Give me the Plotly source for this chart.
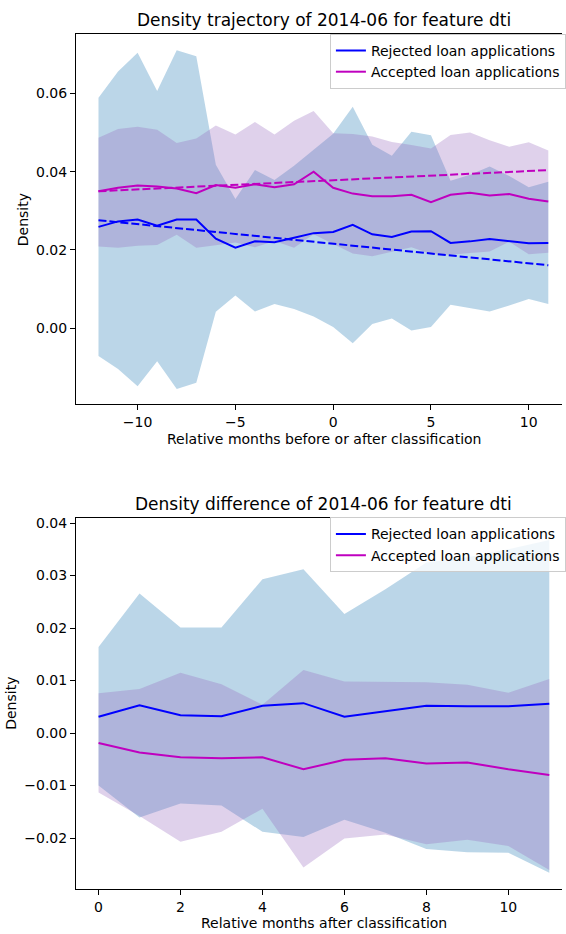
import plotly.graph_objects as go

# ---------------- data: top chart (density trajectory) ----------------
months_top = list(range(-12, 12))
rej_mean = [0.0259, 0.0273, 0.0278, 0.0262, 0.0278, 0.0278, 0.0229, 0.0206,
            0.0222, 0.0220, 0.0231, 0.0243, 0.0246, 0.0264, 0.0240, 0.0233,
            0.0247, 0.0248, 0.0218, 0.0222, 0.0228, 0.0223, 0.0217, 0.0218]
rej_upper = [0.0589, 0.0656, 0.0704, 0.0606, 0.0710, 0.0695, 0.0418, 0.0330,
             0.0404, 0.0379, 0.0415, 0.0457, 0.0497, 0.0566, 0.0469, 0.0441,
             0.0502, 0.0493, 0.0377, 0.0392, 0.0413, 0.0389, 0.0360, 0.0374]
rej_lower = [-0.0071, -0.0104, -0.0148, -0.0084, -0.0155, -0.0139, 0.0042, 0.0084,
             0.0043, 0.0062, 0.0049, 0.0030, 0.0003, -0.0038, 0.0011, 0.0025,
             -0.0006, 0.0003, 0.0060, 0.0051, 0.0043, 0.0058, 0.0075, 0.0062]
acc_mean = [0.0350, 0.0359, 0.0365, 0.0362, 0.0357, 0.0345, 0.0366, 0.0359,
            0.0368, 0.0360, 0.0368, 0.0400, 0.0359, 0.0344, 0.0337, 0.0337,
            0.0341, 0.0322, 0.0341, 0.0346, 0.0339, 0.0343, 0.0331, 0.0324]
acc_upper = [0.0487, 0.0509, 0.0515, 0.0507, 0.0473, 0.0485, 0.0518, 0.0495,
             0.0527, 0.0495, 0.0530, 0.0555, 0.0498, 0.0496, 0.0490, 0.0476,
             0.0468, 0.0459, 0.0494, 0.0500, 0.0480, 0.0464, 0.0475, 0.0454]
acc_lower = [0.0209, 0.0206, 0.0211, 0.0213, 0.0239, 0.0206, 0.0212, 0.0219,
             0.0207, 0.0223, 0.0206, 0.0240, 0.0215, 0.0191, 0.0184, 0.0195,
             0.0207, 0.0190, 0.0188, 0.0192, 0.0196, 0.0221, 0.0189, 0.0193]
# trend lines: values at first and last month
rej_trend = [0.0276, 0.0161]
acc_trend = [0.0350, 0.0404]

# ---------------- data: bottom chart (density difference) ----------------
months_bot = list(range(0, 12))
rej_diff = [0.0031, 0.0053, 0.0034, 0.0032, 0.0052, 0.0057, 0.0031, 0.0041,
            0.0052, 0.0051, 0.0051, 0.0056]
rej_diff_upper = [0.0164, 0.0266, 0.0201, 0.0201, 0.0293, 0.0312, 0.0227, 0.0274,
                  0.0325, 0.0335, 0.0350, 0.0368]
rej_diff_lower = [-0.0100, -0.0161, -0.0134, -0.0138, -0.0188, -0.0198, -0.0165, -0.0190,
                  -0.0221, -0.0227, -0.0228, -0.0266]
acc_diff = [-0.0019, -0.0037, -0.0046, -0.0048, -0.0046, -0.0069, -0.0051, -0.0048,
            -0.0058, -0.0056, -0.0069, -0.0080]
acc_diff_upper = [0.0076, 0.0084, 0.0115, 0.0093, 0.0054, 0.0120, 0.0098, 0.0097,
                  0.0097, 0.0092, 0.0077, 0.0103]
acc_diff_lower = [-0.0113, -0.0158, -0.0207, -0.0188, -0.0144, -0.0256, -0.0201, -0.0193,
                  -0.0212, -0.0203, -0.0215, -0.0261]

series_names = ["Rejected loan applications", "Accepted loan applications"]
title_top = "Density trajectory of 2014-06 for feature dti"
title_bot = "Density difference of 2014-06 for feature dti"
xlabel_top = "Relative months before or after classification"
xlabel_bot = "Relative months after classification"
ylabel = "Density"

# ---------------- styling ----------------
BLUE_FILL = "rgba(31,119,180,0.3)"
PURPLE_FILL = "rgba(148,103,189,0.3)"
BLUE = "rgb(0,0,255)"
MAGENTA = "rgb(191,0,191)"
FONT = "DejaVu Sans"
W, H = 566, 934
L = 76

fig = go.Figure()


def band(x, up, lo, color, xa, ya):
    fig.add_trace(go.Scatter(x=x, y=up, mode="lines", line=dict(width=0),
                             showlegend=False, hoverinfo="skip", xaxis=xa, yaxis=ya))
    fig.add_trace(go.Scatter(x=x, y=lo, mode="lines", line=dict(width=0),
                             fill="tonexty", fillcolor=color,
                             showlegend=False, hoverinfo="skip", xaxis=xa, yaxis=ya))


# top chart
band(months_top, rej_upper, rej_lower, BLUE_FILL, "x", "y")
band(months_top, acc_upper, acc_lower, PURPLE_FILL, "x", "y")
fig.add_trace(go.Scatter(x=months_top, y=rej_mean, mode="lines", name=series_names[0],
                         line=dict(color=BLUE, width=2), xaxis="x", yaxis="y", legend="legend"))
fig.add_trace(go.Scatter(x=months_top, y=acc_mean, mode="lines", name=series_names[1],
                         line=dict(color=MAGENTA, width=2), xaxis="x", yaxis="y", legend="legend"))
trend_x = [months_top[0], months_top[-1]]
fig.add_trace(go.Scatter(x=trend_x, y=rej_trend, mode="lines", showlegend=False,
                         line=dict(color=BLUE, width=2, dash="8px,3px"), xaxis="x", yaxis="y"))
fig.add_trace(go.Scatter(x=trend_x, y=acc_trend, mode="lines", showlegend=False,
                         line=dict(color=MAGENTA, width=2, dash="8px,3px"), xaxis="x", yaxis="y"))

# bottom chart
band(months_bot, rej_diff_upper, rej_diff_lower, BLUE_FILL, "x2", "y2")
band(months_bot, acc_diff_upper, acc_diff_lower, PURPLE_FILL, "x2", "y2")
fig.add_trace(go.Scatter(x=months_bot, y=rej_diff, mode="lines", name=series_names[0],
                         line=dict(color=BLUE, width=2), xaxis="x2", yaxis="y2", legend="legend2"))
fig.add_trace(go.Scatter(x=months_bot, y=acc_diff, mode="lines", name=series_names[1],
                         line=dict(color=MAGENTA, width=2), xaxis="x2", yaxis="y2", legend="legend2"))


def py(p):  # pixel y -> paper y
    return 1 - p / H


def px(p):  # pixel x -> paper x
    return (p - L) / (W - L)


axis_common = dict(showline=True, linecolor="black", linewidth=1, ticks="outside",
                   ticklen=5, tickwidth=1, tickcolor="black", showgrid=False, zeroline=False,
                   tickfont=dict(family=FONT, size=14, color="black"))

legend_common = dict(bgcolor="rgba(255,255,255,0.8)", bordercolor="#cccccc", borderwidth=1,
                     font=dict(family=FONT, size=14, color="black"), xanchor="left",
                     yanchor="top", tracegroupgap=0, itemwidth=30, traceorder="normal")

fig.update_layout(
    width=W, height=H,
    margin=dict(l=L, r=0, t=0, b=0),
    paper_bgcolor="white", plot_bgcolor="white",
    font=dict(family=FONT, color="black"),
    xaxis=dict(domain=[0, 1], range=[-13.15, 11.70], tickvals=[-10, -5, 0, 5, 10],
               mirror=True, anchor="y", **axis_common),
    yaxis=dict(domain=[py(402.7), py(31)], range=[-0.01945, 0.0752],
               tickvals=[0.0, 0.02, 0.04, 0.06], tickformat=".2f", anchor="x", **axis_common),
    xaxis2=dict(domain=[0, 1], range=[-0.55, 11.31], tickvals=[0, 2, 4, 6, 8, 10],
                mirror=True, anchor="y2", **axis_common),
    yaxis2=dict(domain=[py(889), py(516.7)], range=[-0.02973, 0.04096],
                tickvals=[-0.02, -0.01, 0.0, 0.01, 0.02, 0.03, 0.04], tickformat=".2f",
                anchor="x2", **axis_common),
    legend=dict(x=px(332), y=py(31), **legend_common),
    legend2=dict(x=px(332), y=py(516), **legend_common),
    showlegend=True,
)

ann = [
    (title_top, 326, 17, 0, 17),
    (title_bot, 326, 503, 0, 17),
    (xlabel_top, 326.5, 437, 0, 14),
    (xlabel_bot, 326.5, 923, 0, 14),
    (ylabel, 22.5, 217, -90, 14),
    (ylabel, 10.5, 703, -90, 14),
]
for text, x, y, ang, size in ann:
    fig.add_annotation(text=text, x=px(x), y=py(y), xref="paper", yref="paper",
                       xanchor="center", yanchor="middle", showarrow=False, textangle=ang,
                       font=dict(family=FONT, size=size, color="black"))

fig.write_html("out.html")
